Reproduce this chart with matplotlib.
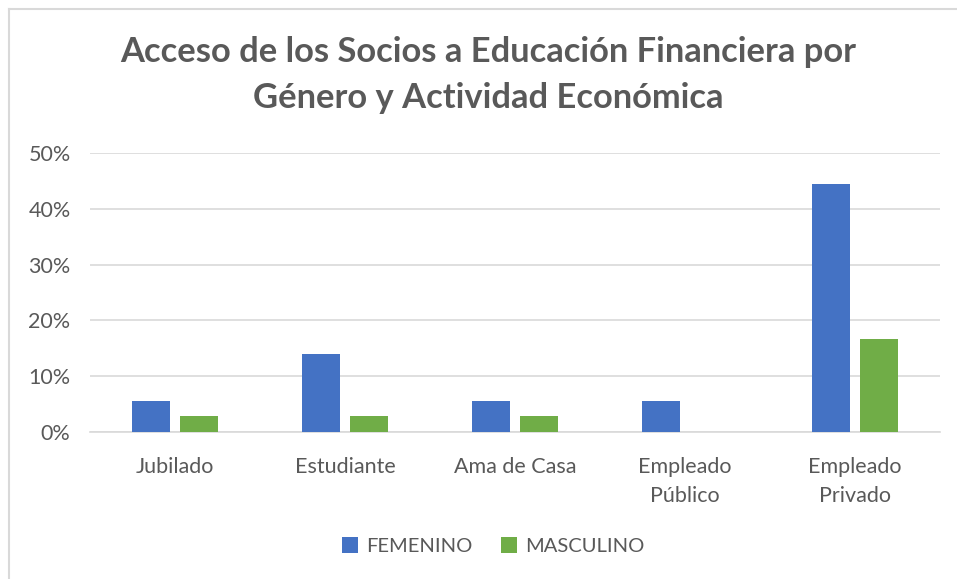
import numpy as np
import matplotlib.pyplot as plt
from matplotlib.lines import Line2D
from matplotlib.ticker import PercentFormatter

categorias = ['Jubilado', 'Estudiante', 'Ama de Casa', 'Empleado\nPúblico', 'Empleado\nPrivado']
femenino = [0.0556, 0.1389, 0.0556, 0.0556, 0.4444]
masculino = [0.0278, 0.0278, 0.0278, 0.0, 0.1667]
series = ['FEMENINO', 'MASCULINO']
colores = ['#4472C4', '#70AD47']
gris = '#595959'

plt.rcParams['font.family'] = ['Lato', 'DejaVu Sans']

fig = plt.figure(figsize=(9.57, 5.79), dpi=100)
ax = fig.add_axes([90/957, 1-432/579, (940-90)/957, (432-153)/579])

x = np.arange(len(categorias))
w = 0.224
sep = 0.03
ax.bar(x - w/2 - sep, femenino, w, color=colores[0], label=series[0], zorder=3)
ax.bar(x + w/2 + sep, masculino, w, color=colores[1], label=series[1], zorder=3)

ax.set_xlim(-0.5, len(categorias) - 0.5)
ax.set_ylim(0, 0.5)
ax.set_yticks(np.arange(0, 0.51, 0.1))
ax.yaxis.set_major_formatter(PercentFormatter(1.0, decimals=0))
ax.set_xticks(x)
ax.set_xticklabels(categorias, linespacing=1.55)
ax.tick_params(axis='both', length=0, labelsize=15.5, labelcolor=gris)
ax.tick_params(axis='x', pad=18)
ax.tick_params(axis='y', pad=14)
ax.grid(axis='y', color='#D9D9D9', linewidth=1.2, zorder=0)
for s in ['top', 'right', 'left']:
    ax.spines[s].set_visible(False)
ax.spines['bottom'].set_color('#D9D9D9')
ax.spines['bottom'].set_linewidth(1.2)

fig.text(488/957, 1-75/579, 'Acceso de los Socios a Educación Financiera por\nGénero y Actividad Económica',
         ha='center', va='center', fontsize=24.8, fontweight='bold', color=gris, linespacing=1.5)

fig.legend(loc='center', bbox_to_anchor=(493/957, 1-546/579), ncol=2, frameon=False,
           fontsize=14.5, labelcolor=gris, handlelength=0.8, handleheight=0.8,
           handletextpad=0.4, columnspacing=1.4)

# borde del grafico (solo visible arriba y a la izquierda)
fig.add_artist(Line2D([9/957, 9/957], [0, 1-9/579], color='#D9D9D9', linewidth=1.5))
fig.add_artist(Line2D([9/957, 1], [1-9/579, 1-9/579], color='#D9D9D9', linewidth=1.5))

fig.savefig('out.png', dpi=100)
